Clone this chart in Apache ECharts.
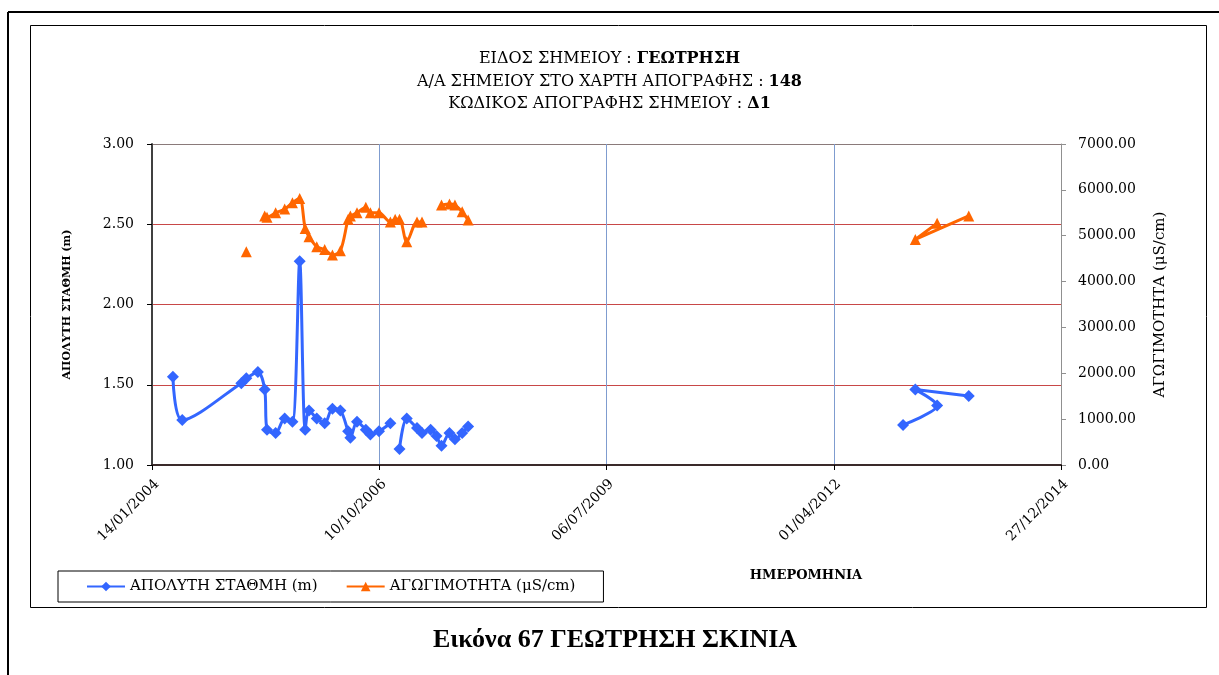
<!DOCTYPE html>
<html>
<head>
<meta charset="utf-8">
<script src="https://cdn.jsdelivr.net/npm/echarts@6/dist/echarts.min.js"></script>
<style>
html, body { margin: 0; padding: 0; background: #fff; }
#chart { width: 1219px; height: 675px; }
</style>
</head>
<body>
<div id="chart"></div>
<script>
// dates as Excel day serials (38000 = 14/01/2004), null row = break in the lines
var dates = [38092, 38133, 38393, 38415, 38466, 38496, 38506, 38544, 38584, 38618,
	38650, 38674, 38691, 38725, 38760, 38794, 38829, 38863, 38873, 38902,
	38941, 38961, 38999, 39049, 39070, 39089, 39121, 39166, 39188, 39226,
	39252, 39274, 39309, 39333, 39365, 39391, null, 41305, 41455, 41359, 41594];
// ΑΠΟΛΥΤΗ ΣΤΑΘΜΗ (m)
var level = [1.55, 1.28, 1.51, 1.54, 1.58, 1.47, 1.22, 1.20, 1.29, 1.27,
	2.27, 1.22, 1.34, 1.29, 1.26, 1.35, 1.34, 1.21, 1.17, 1.27,
	1.22, 1.19, 1.21, 1.26, null, 1.10, 1.29, 1.23, 1.20, 1.22,
	1.18, 1.12, 1.20, 1.16, 1.20, 1.24, null, 1.25, 1.37, 1.47, 1.43];
// ΑΓΩΓΙΜΟΤΗΤΑ (μS/cm)
var conductivity = [null, null, null, 4650, null, 5430, 5400, 5500, 5580, 5720,
	5810, 5160, 4980, 4760, 4700, 4580, 4670, 5360, 5430, 5500,
	5620, 5500, 5500, 5300, 5360, 5360, 4870, 5300, 5300, null,
	null, 5670, 5690, 5670, 5520, 5340, null, null, 5270, 4920, 5430];

var xTickLabels = ['14/01/2004', '10/10/2006', '06/07/2009', '01/04/2012', '27/12/2014'];
var xMin = 38000, xStep = 1000;

function pairs(ys) {
	var out = [];
	for (var i = 0; i < dates.length; i++) {
		var x = dates[i] == null ? '-' : dates[i];
		var y = ys[i] == null ? '-' : ys[i];
		out.push([x, y]);
	}
	return out;
}

var serif = 'DejaVu Serif';
var myChart = echarts.init(document.getElementById('chart'));

var option = {
	animation: false,
	backgroundColor: '#fff',
	title: {
		left: 'center',
		top: 43,
		text: 'ΕΙΔΟΣ ΣΗΜΕΙΟΥ : {b|ΓΕΩΤΡΗΣΗ}\nΑ/Α ΣΗΜΕΙΟΥ ΣΤΟ ΧΑΡΤΗ ΑΠΟΓΡΑΦΗΣ : {b|148}\nΚΩΔΙΚΟΣ ΑΠΟΓΡΑΦΗΣ ΣΗΜΕΙΟΥ : {b|Δ1}',
		textStyle: {
			fontFamily: serif,
			fontSize: 16,
			fontWeight: 'normal',
			color: '#000',
			lineHeight: 22.5,
			rich: {
				b: { fontFamily: serif, fontSize: 16, fontWeight: 'bold', color: '#000', lineHeight: 22.5 }
			}
		}
	},
	legend: {
		left: 58,
		top: 571,
		orient: 'horizontal',
		borderColor: '#000',
		borderWidth: 1,
		padding: [8, 28, 8, 28],
		itemGap: 28,
		itemWidth: 38,
		itemHeight: 12,
		textStyle: { fontFamily: serif, fontSize: 15, color: '#000' },
		data: ['ΑΠΟΛΥΤΗ ΣΤΑΘΜΗ (m)', 'ΑΓΩΓΙΜΟΤΗΤΑ (μS/cm)']
	},
	grid: { left: 152, right: 158, top: 144, bottom: 210 },
	xAxis: {
		type: 'value',
		min: 38000,
		max: 42000,
		interval: 1000,
		axisLine: { lineStyle: { color: '#3a2a2a', width: 2 } },
		axisTick: { show: true, length: 5, lineStyle: { color: '#000' } },
		axisLabel: {
			rotate: 45,
			margin: 12,
			verticalAlign: 'top',
			fontFamily: serif,
			fontSize: 14,
			color: '#000',
			formatter: function (v) {
				return xTickLabels[Math.round((v - xMin) / xStep)] || '';
			}
		},
		splitLine: { show: true, lineStyle: { color: '#7f9ccf', width: 1 } }
	},
	yAxis: [{
		type: 'value',
		min: 1,
		max: 3,
		interval: 0.5,
		name: 'ΑΠΟΛΥΤΗ ΣΤΑΘΜΗ (m)',
		nameLocation: 'middle',
		nameGap: 79,
		nameRotate: 90,
		nameTextStyle: { fontFamily: serif, fontSize: 11, fontWeight: 'bold', color: '#000' },
		axisLine: { show: true, lineStyle: { color: '#404040', width: 2 } },
		axisTick: { show: true, length: 5, lineStyle: { color: '#000' } },
		axisLabel: {
			margin: 18,
			fontFamily: serif,
			fontSize: 14,
			color: '#000',
			formatter: function (v) { return v.toFixed(2); }
		},
		splitLine: {
			show: true,
			lineStyle: { color: ['#c84848', '#c84848', '#c84848', '#c84848', '#8a7a7a'], width: 1 }
		}
	}, {
		type: 'value',
		min: 0,
		max: 7000,
		interval: 1000,
		position: 'right',
		name: 'ΑΓΩΓΙΜΟΤΗΤΑ (μS/cm)',
		nameLocation: 'middle',
		nameGap: 92,
		nameRotate: 90,
		nameTextStyle: { fontFamily: serif, fontSize: 15, color: '#000' },
		axisLine: { show: true, lineStyle: { color: '#909090', width: 1 } },
		axisTick: { show: true, length: 5, lineStyle: { color: '#909090' } },
		axisLabel: {
			margin: 17,
			fontFamily: serif,
			fontSize: 14,
			color: '#000',
			formatter: function (v) { return v.toFixed(2); }
		},
		splitLine: { show: false }
	}],
	series: [{
		name: 'ΑΠΟΛΥΤΗ ΣΤΑΘΜΗ (m)',
		type: 'line',
		yAxisIndex: 0,
		data: pairs(level),
		smooth: 0.3,
		connectNulls: false,
		symbol: 'diamond',
		symbolSize: 12,
		showAllSymbol: true,
		color: '#3366ff',
		lineStyle: { width: 3, color: '#3366ff' },
		itemStyle: { color: '#3366ff' }
	}, {
		name: 'ΑΓΩΓΙΜΟΤΗΤΑ (μS/cm)',
		type: 'line',
		yAxisIndex: 1,
		data: pairs(conductivity),
		smooth: 0.3,
		connectNulls: false,
		symbol: 'triangle',
		symbolSize: 11,
		showAllSymbol: true,
		color: '#ff6600',
		lineStyle: { width: 3, color: '#ff6600' },
		itemStyle: { color: '#ff6600' }
	}],
	graphic: [{
		type: 'line',
		shape: { x1: 8, y1: 12, x2: 1219, y2: 12 },
		style: { stroke: '#000', lineWidth: 2 }
	}, {
		type: 'line',
		shape: { x1: 8, y1: 12, x2: 8, y2: 675 },
		style: { stroke: '#000', lineWidth: 2 }
	}, {
		type: 'rect',
		shape: { x: 30.5, y: 25.5, width: 1176, height: 582 },
		style: { fill: 'none', stroke: '#000', lineWidth: 1 },
		z: -1
	}, {
		type: 'text',
		x: 806,
		y: 576,
		style: {
			text: 'ΗΜΕΡΟΜΗΝΙΑ',
			fontFamily: serif,
			fontSize: 13,
			fontWeight: 'bold',
			fill: '#000',
			align: 'center',
			verticalAlign: 'middle'
		}
	}, {
		type: 'text',
		x: 615,
		y: 640,
		style: {
			text: 'Εικόνα 67 ΓΕΩΤΡΗΣΗ ΣΚΙΝΙΑ',
			fontFamily: 'Liberation Serif',
			fontSize: 26,
			fontWeight: 'bold',
			fill: '#000',
			align: 'center',
			verticalAlign: 'middle'
		}
	}]
};

myChart.setOption(option);
</script>
</body>
</html>
